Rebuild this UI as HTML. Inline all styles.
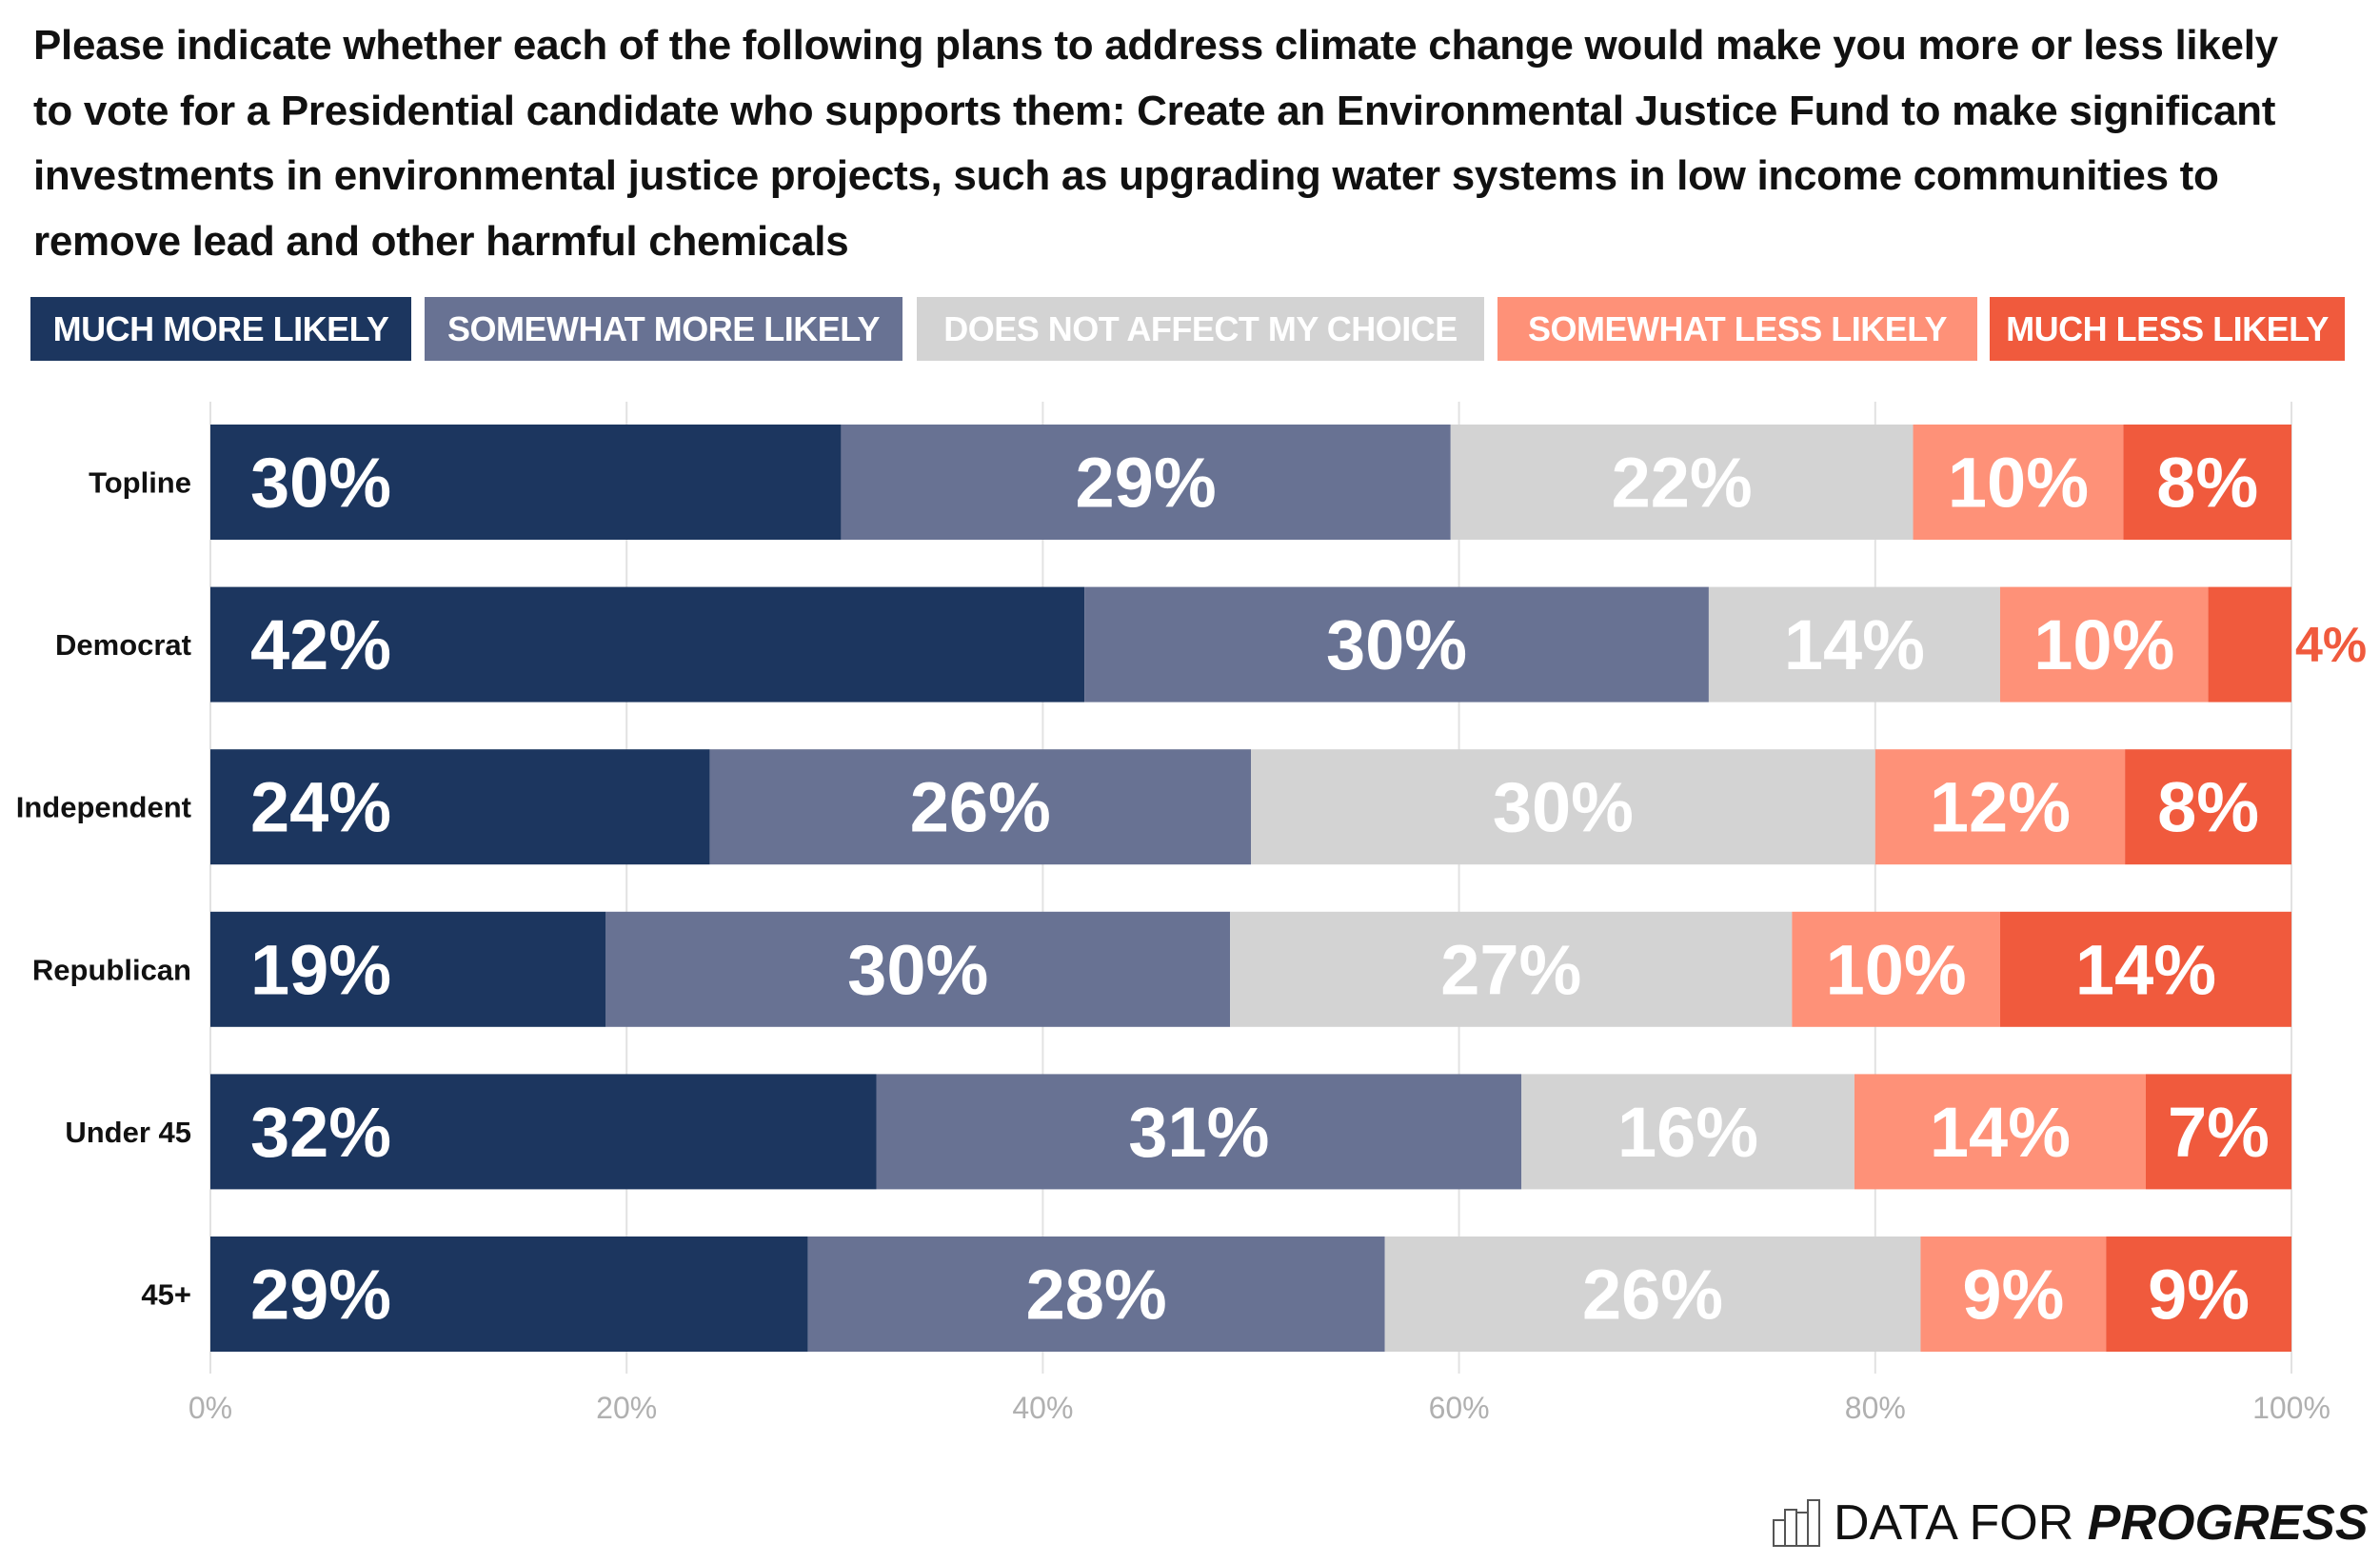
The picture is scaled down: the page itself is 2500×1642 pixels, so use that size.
<!DOCTYPE html>
<html><head><meta charset="utf-8"><style>
body{margin:0;background:#fff;width:2500px;height:1642px;overflow:hidden;font-family:"Liberation Sans",sans-serif;}
#title{position:absolute;left:35px;top:14px;width:2480px;font-weight:bold;font-size:44px;line-height:68.5px;color:#111;letter-spacing:-0.3px;white-space:nowrap}
.leg{position:absolute;top:312px;height:67px;color:#fff;font-weight:bold;font-size:36px;line-height:67px;text-align:center;white-space:nowrap;overflow:hidden;letter-spacing:-0.5px}
</style></head><body>
<div id="title">Please indicate whether each of the following plans to address climate change would make you more or less likely<br>to vote for a Presidential candidate who supports them: Create an Environmental Justice Fund to make significant<br>investments in environmental justice projects, such as upgrading water systems in low income communities to<br>remove lead and other harmful chemicals</div>
<div class="leg" style="left:32px;width:400px;background:#1c365f">MUCH MORE LIKELY</div>
<div class="leg" style="left:446px;width:502px;background:#687293">SOMEWHAT MORE LIKELY</div>
<div class="leg" style="left:963px;width:596px;background:#d3d3d3">DOES NOT AFFECT MY CHOICE</div>
<div class="leg" style="left:1573px;width:504px;background:#fe9178">SOMEWHAT LESS LIKELY</div>
<div class="leg" style="left:2090px;width:373px;background:#f05a3d">MUCH LESS LIKELY</div>
<svg id="chart" width="2500" height="1642" style="position:absolute;left:0;top:0"></svg>
<div style="position:absolute;left:1862px;top:1570px;height:60px;display:flex;align-items:center">
<svg width="52" height="50"><g fill="none" stroke="#555" stroke-width="2"><rect x="1" y="22" width="12" height="27"/><rect x="13" y="11" width="12" height="38"/><rect x="25" y="14" width="12" height="35"/><rect x="37" y="1" width="12" height="48"/></g></svg>
<span style="font-size:52px;color:#111;margin-left:12px;font-weight:300">DATA FOR <b style="font-weight:900"><i>PROGRESS</i></b></span></div>
<script>
const categories=["Topline","Democrat","Independent","Republican","Under 45","45+"];
const muchMore=[30,42,24,19,32,29];
const somewhatMore=[29,30,26,30,31,28];
const noEffect=[22,14,30,27,16,26];
const somewhatLess=[10,10,12,10,14,9];
const muchLess=[8,4,8,14,7,9];
const ticks=[0,20,40,60,80,100];
const series=[muchMore,somewhatMore,noEffect,somewhatLess,muchLess];
const colors=["#1c365f","#687293","#d3d3d3","#fe9178","#f05a3d"];
const names=["much-more","somewhat-more","no-effect","somewhat-less","much-less"];
const svg=document.getElementById('chart');
const NS="http://www.w3.org/2000/svg";
const X0=221,X1=2407,rowTop=446,pitch=170.6,bh=121;
const x=v=>X0+(X1-X0)*v/100;
const y=i=>rowTop+i*pitch;
function mk(t,a){const e=document.createElementNS(NS,t);for(const k in a)e.setAttribute(k,a[k]);svg.appendChild(e);return e;}
ticks.forEach(t=>{
 const l=mk('line',{x1:x(t),x2:x(t),y1:422,y2:1443,stroke:'#e2e2e2','stroke-width':2});
 
 
 const tx=mk('text',{x:x(t),y:1490,'text-anchor':'middle','font-size':32,fill:'#b0b0b0','font-family':'Liberation Sans, sans-serif'});
 tx.textContent=t+'%';
 
 
});
categories.forEach((c,i)=>{
 const lab=mk('text',{x:201,y:y(i)+bh/2+11,'text-anchor':'end','font-size':31,'font-weight':'bold',fill:'#111','font-family':'Liberation Sans, sans-serif'});
 lab.textContent=c;
 
 
 const tot=series.reduce((s,a)=>s+a[i],0);
 let cum=0;
 series.forEach((a,k)=>{
  const v=a[i];const xs=x(cum/tot*100),xe=x((cum+v)/tot*100);cum+=v;
  const r=mk('rect',{x:xs,y:y(i),width:xe-xs,height:bh,fill:colors[k]});
  
  
  const small=(xe-xs)<90;
  let tx;
  if(k===0) tx=mk('text',{x:xs+42,y:y(i)+bh/2+26,'font-size':74,'font-weight':'bold',fill:'#fff','font-family':'Liberation Sans, sans-serif'});
  else if(small) tx=mk('text',{x:xe+4,y:y(i)+bh/2+18,'font-size':52,'font-weight':'bold',fill:colors[k],'font-family':'Liberation Sans, sans-serif'});
  else tx=mk('text',{x:(xs+xe)/2,y:y(i)+bh/2+26,'text-anchor':'middle','font-size':74,'font-weight':'bold',fill:'#fff','font-family':'Liberation Sans, sans-serif'});
  tx.textContent=v+'%';
  
  
 });
});
</script>
</body></html>
